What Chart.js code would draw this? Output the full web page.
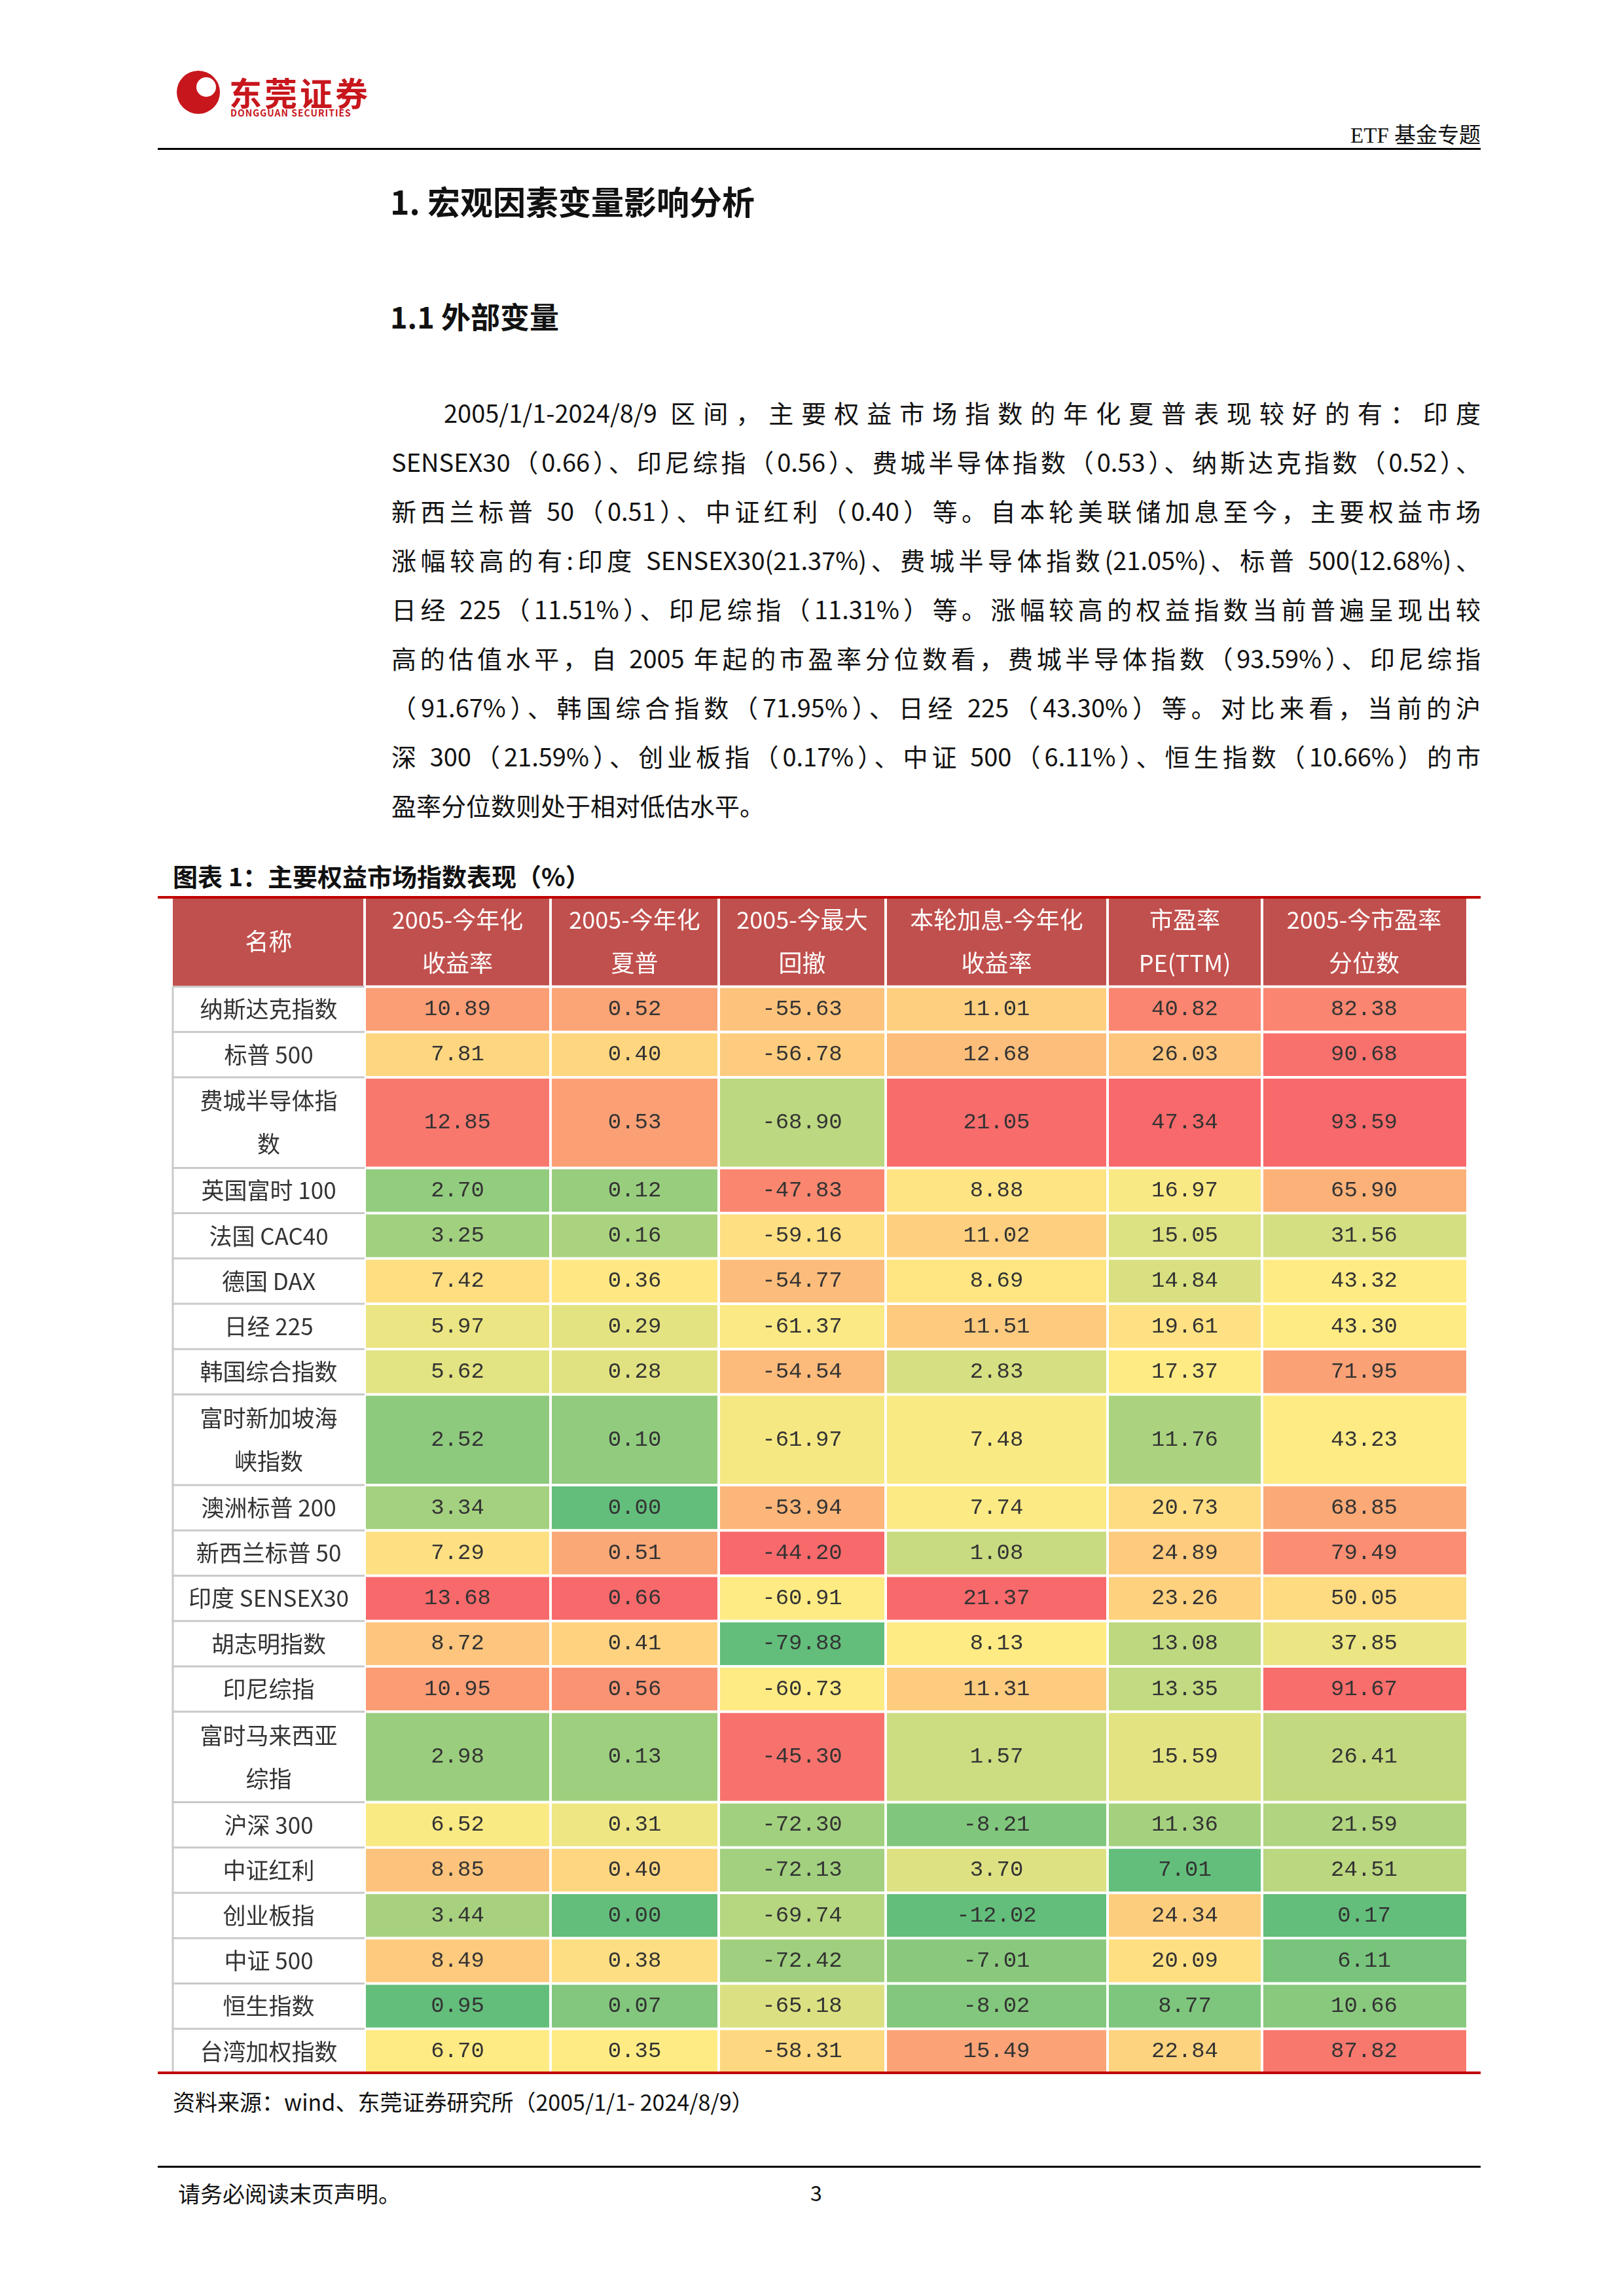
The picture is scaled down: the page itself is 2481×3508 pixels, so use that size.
<!DOCTYPE html>
<html>
<head>
<meta charset="utf-8">
<script src="https://cdn.jsdelivr.net/npm/chart.js@4"></script>
<style>
  body { margin: 0; width: 2481px; height: 3508px; background: #fff; position: relative;
    font-family: "Noto Sans CJK SC", sans-serif; color: #111; }
  .abs { position: absolute; }
  .para div { height: 75px; line-height: 75px; font-size: 38px; text-align: justify; text-align-last: justify; white-space: nowrap; }
  .para div.last { text-align-last: left; }
</style>
</head>
<body>
<div class="abs" style="left:270px;top:108px;width:66px;height:66px;border-radius:50%;background:#c8161d;"></div>
<div class="abs" style="left:300px;top:118px;width:30px;height:30px;border-radius:50%;background:#fff;"></div>
<div class="abs" style="left:350px;top:104px;font-size:50px;font-weight:bold;color:#c8161d;letter-spacing:4px;">东莞证券</div>
<div class="abs" style="left:352px;top:162px;font-size:14px;font-weight:bold;color:#c8161d;letter-spacing:1px;">DONGGUAN SECURITIES</div>
<div class="abs" style="right:219px;top:180px;font-size:33px;font-family:'Liberation Serif','Noto Sans CJK SC';">ETF 基金专题</div>
<div class="abs" style="left:241px;top:226px;width:2021px;height:3px;background:#000;"></div>

<div class="abs" style="left:596px;top:270px;font-size:50px;font-weight:bold;">1. 宏观因素变量影响分析</div>
<div class="abs" style="left:596px;top:450px;font-size:45px;font-weight:bold;">1.1 外部变量</div>

<div class="abs para" style="left:598px;top:592px;width:1664px;">
  <div style="padding-left:80px;">2005/1/1-2024/8/9 区间，主要权益市场指数的年化夏普表现较好的有：印度</div>
  <div>SENSEX30（0.66）、印尼综指（0.56）、费城半导体指数（0.53）、纳斯达克指数（0.52）、</div>
  <div>新西兰标普 50（0.51）、中证红利（0.40）等。自本轮美联储加息至今，主要权益市场</div>
  <div>涨幅较高的有:印度 SENSEX30(21.37%)、费城半导体指数(21.05%)、标普 500(12.68%)、</div>
  <div>日经 225（11.51%）、印尼综指（11.31%）等。涨幅较高的权益指数当前普遍呈现出较</div>
  <div>高的估值水平，自 2005 年起的市盈率分位数看，费城半导体指数（93.59%）、印尼综指</div>
  <div>（91.67%）、韩国综合指数（71.95%）、日经 225（43.30%）等。对比来看，当前的沪</div>
  <div>深 300（21.59%）、创业板指（0.17%）、中证 500（6.11%）、恒生指数（10.66%）的市</div>
  <div class="last">盈率分位数则处于相对低估水平。</div>
</div>

<div class="abs" style="left:264px;top:1310px;font-size:38px;font-weight:bold;">图表 1：主要权益市场指数表现（%）</div>
<div class="abs" style="left:241px;top:1369px;width:2021px;height:1800px;"><canvas id="tbl"></canvas></div>
<div class="abs" style="left:264px;top:3186px;font-size:34px;">资料来源：wind、东莞证券研究所（2005/1/1- 2024/8/9）</div>

<div class="abs" style="left:241px;top:3309px;width:2021px;height:3px;background:#000;"></div>
<div class="abs" style="left:272px;top:3326px;font-size:34px;">请务必阅读末页声明。</div>
<div class="abs" style="left:1238px;top:3326px;font-size:32px;">3</div>

<script>
const headers = ["名称", "2005-今年化\n收益率", "2005-今年化\n夏普", "2005-今最大\n回撤", "本轮加息-今年化\n收益率", "市盈率\nPE(TTM)", "2005-今市盈率\n分位数"];
const names = ["纳斯达克指数", "标普 500", "费城半导体指\n数", "英国富时 100", "法国 CAC40", "德国 DAX", "日经 225", "韩国综合指数",
  "富时新加坡海\n峡指数", "澳洲标普 200", "新西兰标普 50", "印度 SENSEX30", "胡志明指数", "印尼综指", "富时马来西亚\n综指",
  "沪深 300", "中证红利", "创业板指", "中证 500", "恒生指数", "台湾加权指数"];
const annReturn = [10.89, 7.81, 12.85, 2.70, 3.25, 7.42, 5.97, 5.62, 2.52, 3.34, 7.29, 13.68, 8.72, 10.95, 2.98, 6.52, 8.85, 3.44, 8.49, 0.95, 6.70];
const sharpe = [0.52, 0.40, 0.53, 0.12, 0.16, 0.36, 0.29, 0.28, 0.10, 0.00, 0.51, 0.66, 0.41, 0.56, 0.13, 0.31, 0.40, 0.00, 0.38, 0.07, 0.35];
const maxDrawdown = [-55.63, -56.78, -68.90, -47.83, -59.16, -54.77, -61.37, -54.54, -61.97, -53.94, -44.20, -60.91, -79.88, -60.73, -45.30, -72.30, -72.13, -69.74, -72.42, -65.18, -58.31];
const hikeReturn = [11.01, 12.68, 21.05, 8.88, 11.02, 8.69, 11.51, 2.83, 7.48, 7.74, 1.08, 21.37, 8.13, 11.31, 1.57, -8.21, 3.70, -12.02, -7.01, -8.02, 15.49];
const pe = [40.82, 26.03, 47.34, 16.97, 15.05, 14.84, 19.61, 17.37, 11.76, 20.73, 24.89, 23.26, 13.08, 13.35, 15.59, 11.36, 7.01, 24.34, 20.09, 8.77, 22.84];
const pePercentile = [82.38, 90.68, 93.59, 65.90, 31.56, 43.32, 43.30, 71.95, 43.23, 68.85, 79.49, 50.05, 37.85, 91.67, 26.41, 21.59, 24.51, 0.17, 6.11, 10.66, 87.82];
const columns = [annReturn, sharpe, maxDrawdown, hikeReturn, pe, pePercentile];

// column edges in canvas px (x scale), row units (y scale)
const colEdges = [23, 316, 600, 857, 1112, 1451, 1687, 1999];
const headerUnits = 2;

function median(arr) {
  const s = [...arr].sort((a, b) => a - b);
  const m = (s.length - 1) / 2;
  return (s[Math.floor(m)] + s[Math.ceil(m)]) / 2;
}
function mix(a, b, t) {
  return `rgb(${a.map((v, i) => Math.round(v + (b[i] - v) * t)).join(",")})`;
}
const GREEN = [99, 190, 123], YELLOW = [255, 235, 132], RED = [248, 105, 107];
function heat(col, v) {
  const min = Math.min(...col), max = Math.max(...col), mid = median(col);
  if (v <= mid) return mix(GREEN, YELLOW, mid === min ? 1 : (v - min) / (mid - min));
  return mix(YELLOW, RED, max === mid ? 0 : (v - mid) / (max - mid));
}

const rowStart = [];
let u = headerUnits;
names.forEach((n) => { rowStart.push(u); u += n.split("\n").length; });
const totalUnits = u;

const tablePlugin = {
  id: "heatTable",
  afterDatasetsDraw(chart) {
    const ctx = chart.ctx, xs = chart.scales.x, ys = chart.scales.y;
    const X = (v) => xs.getPixelForValue(v), Y = (v) => ys.getPixelForValue(v);
    ctx.save();
    ctx.textAlign = "center";
    ctx.textBaseline = "middle";
    // header
    for (let c = 0; c < headers.length; c++) {
      const x0 = X(colEdges[c]), x1 = X(colEdges[c + 1]), y0 = Y(0), y1 = Y(headerUnits);
      ctx.fillStyle = "#c0504d";
      ctx.fillRect(x0, y0, x1 - x0, y1 - y0);
      ctx.fillStyle = "#fff";
      ctx.font = "36px 'Noto Sans CJK SC'";
      const lines = headers[c].split("\n");
      lines.forEach((t, i) => ctx.fillText(t, (x0 + x1) / 2, (y0 + y1) / 2 + (i - (lines.length - 1) / 2) * 66));
    }
    // body
    names.forEach((n, r) => {
      const lines = n.split("\n");
      const y0 = Y(rowStart[r]), y1 = Y(rowStart[r] + lines.length);
      for (let c = 0; c < headers.length; c++) {
        const x0 = X(colEdges[c]), x1 = X(colEdges[c + 1]);
        ctx.fillStyle = c === 0 ? "#fff" : heat(columns[c - 1], columns[c - 1][r]);
        ctx.fillRect(x0, y0, x1 - x0, y1 - y0);
        ctx.fillStyle = "#333";
        if (c === 0) {
          ctx.font = "35px 'Noto Sans CJK SC'";
          lines.forEach((t, i) => ctx.fillText(t, (x0 + x1) / 2, (y0 + y1) / 2 + (i - (lines.length - 1) / 2) * 66));
        } else {
          ctx.font = "34px 'Liberation Mono'";
          ctx.fillText(columns[c - 1][r].toFixed(2), (x0 + x1) / 2, (y0 + y1) / 2);
        }
      }
    });
    // grid
    ctx.strokeStyle = "#fff";
    ctx.lineWidth = 4;
    ctx.beginPath();
    colEdges.slice(1, -1).forEach((e) => { ctx.moveTo(X(e), Y(0)); ctx.lineTo(X(e), Y(totalUnits)); });
    rowStart.forEach((s) => { ctx.moveTo(X(colEdges[1]), Y(s)); ctx.lineTo(X(colEdges[7]), Y(s)); });
    ctx.stroke();
    ctx.strokeStyle = "#c9c9c9";
    ctx.lineWidth = 3;
    ctx.beginPath();
    rowStart.forEach((s) => { ctx.moveTo(X(colEdges[0]), Y(s)); ctx.lineTo(X(colEdges[1]), Y(s)); });
    ctx.moveTo(X(colEdges[0]), Y(headerUnits)); ctx.lineTo(X(colEdges[0]), Y(totalUnits));
    ctx.stroke();
    // red rules
    ctx.fillStyle = "#c00000";
    ctx.fillRect(xs.left, Y(0), xs.right - xs.left, 4);
    ctx.fillRect(xs.left, Y(totalUnits) - 4, xs.right - xs.left, 4);
    ctx.restore();
  },
};

new Chart(document.getElementById("tbl"), {
  type: "scatter",
  data: { datasets: [{ data: [] }] },
  options: {
    responsive: true,
    maintainAspectRatio: false,
    animation: false,
    layout: { padding: 0 },
    plugins: { legend: { display: false }, tooltip: { enabled: false } },
    scales: {
      x: { type: "linear", min: 0, max: 2021, display: false },
      y: { type: "linear", min: 0, max: totalUnits, reverse: true, display: false },
    },
  },
  plugins: [tablePlugin],
});
</script>
</body>
</html>
